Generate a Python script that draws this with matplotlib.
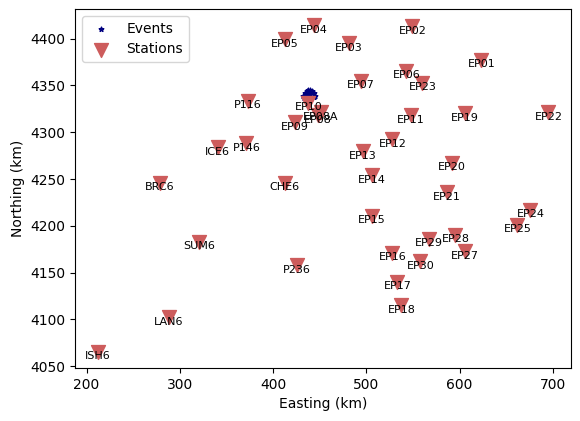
import matplotlib
matplotlib.use("Agg")
import matplotlib.pyplot as plt

station_names = ["EP01", "EP02", "EP03", "EP04", "EP05", "EP06", "EP07", "EP08", "EP08A",
                 "EP09", "EP10", "EP11", "EP12", "EP13", "EP14", "EP15", "EP16", "EP17",
                 "EP18", "EP19", "EP20", "EP21", "EP22", "EP23", "EP24", "EP25", "EP27",
                 "EP28", "EP29", "EP30", "P116", "P146", "P236", "ICE6", "BRC6", "CHE6",
                 "SUM6", "LAN6", "ISH6"]
station_easting = [623.5, 549.5, 480.9, 443.4, 412.3, 543.0, 493.8, 447.7, 450.9,
                   423.0, 438.0, 547.4, 528.0, 496.3, 505.6, 505.6, 528.0, 533.4,
                   537.7, 605.3, 591.5, 586.0, 695.3, 560.2, 676.0, 662.0, 605.3,
                   595.6, 566.7, 558.0, 372.6, 371.5, 425.2, 340.5, 278.3, 412.3,
                   321.0, 288.0, 211.8]
station_northing = [4377.7, 4413.2, 4395.0, 4414.3, 4399.2, 4365.9, 4355.0, 4318.5, 4321.7,
                    4311.0, 4331.4, 4318.5, 4292.4, 4279.5, 4253.9, 4210.8, 4171.0, 4140.0,
                    4115.0, 4320.6, 4267.3, 4235.6, 4321.7, 4353.0, 4217.3, 4201.0, 4173.1,
                    4190.3, 4186.0, 4162.4, 4333.6, 4288.3, 4158.0, 4284.0, 4246.0, 4246.0,
                    4182.8, 4102.0, 4065.4]

event_easting = [432.0, 434.0, 436.0, 438.0, 440.0, 442.0, 444.0, 445.0, 435.0, 438.5,
                 441.5, 437.0, 439.5, 433.5, 443.5, 438.5]
event_northing = [4339.0, 4342.0, 4344.0, 4345.5, 4345.0, 4344.0, 4342.0, 4339.0, 4339.5,
                  4341.0, 4341.5, 4338.0, 4338.0, 4337.0, 4337.5, 4343.0]

fig = plt.figure(figsize=(5.8, 4.21), dpi=100)
ax = fig.add_axes([75 / 580, 53 / 421, 496 / 580, 359 / 421])

ax.scatter(event_easting, event_northing, marker="*", s=12, color="navy",
           label="Events", zorder=2)
ax.scatter(station_easting, station_northing, marker="v", s=100, color="indianred",
           label="Stations", zorder=3)
for name, e, n in zip(station_names, station_easting, station_northing):
    ax.annotate(name, (e, n), xytext=(0, -3.3), textcoords="offset points",
                ha="center", va="center", fontsize=8, zorder=4)

ax.set_xlabel("Easting (km)")
ax.set_ylabel("Northing (km)")
ax.legend(loc="upper left")

fig.savefig("out.png", dpi=100)
